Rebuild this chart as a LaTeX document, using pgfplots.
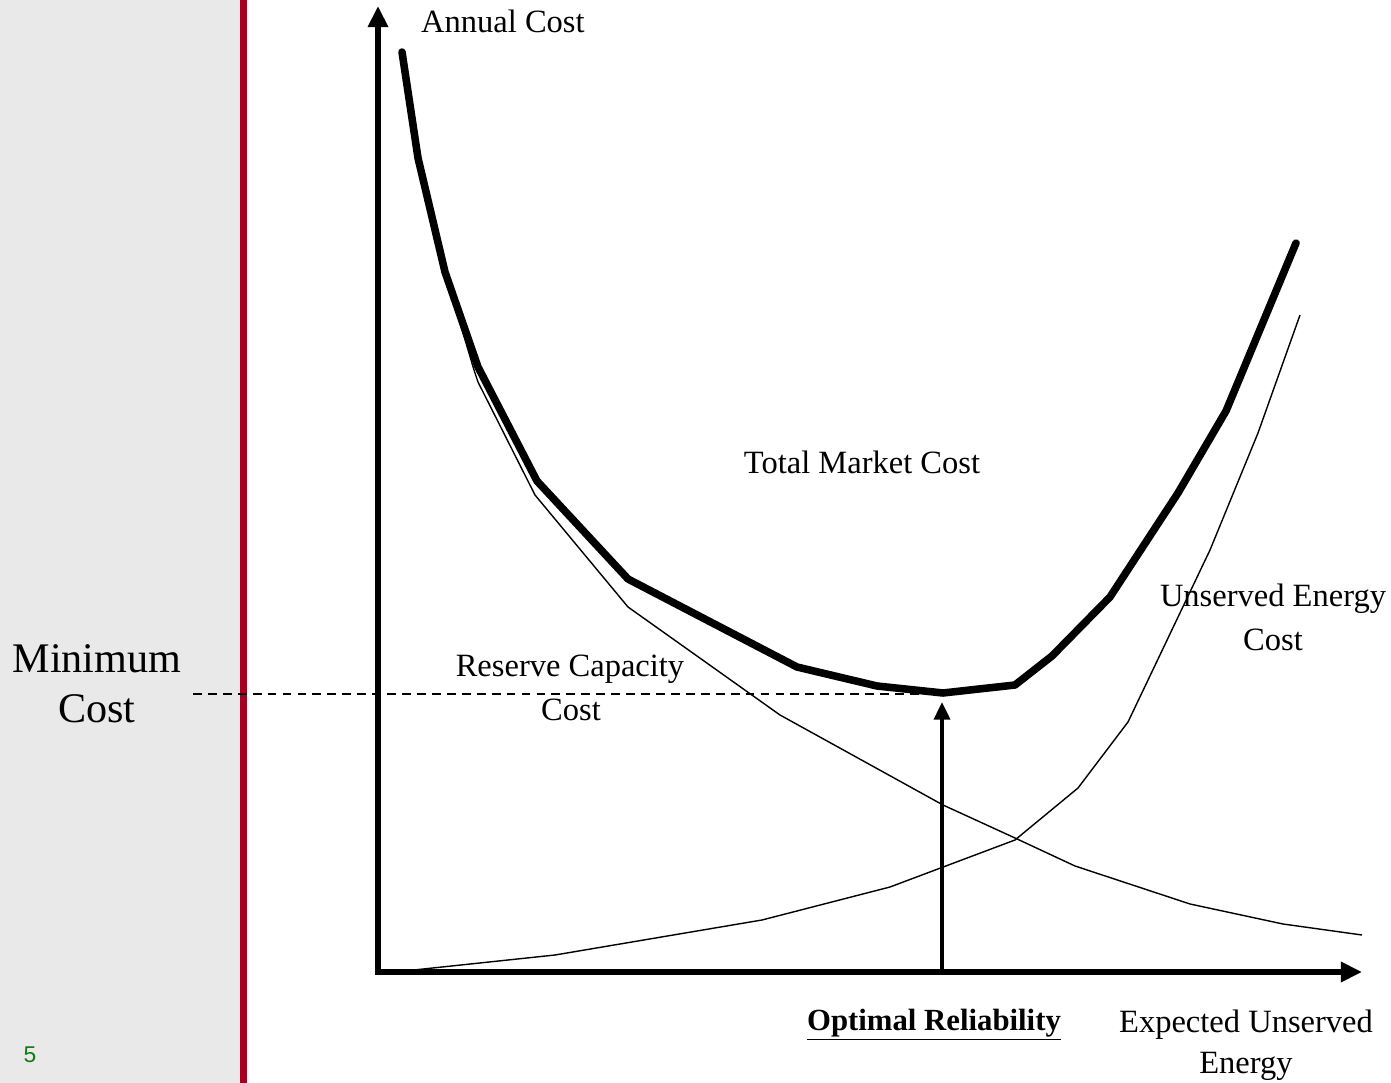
\documentclass[border=0pt]{standalone}
\usepackage{pgfplots}
\pgfplotsset{compat=1.18}
\usetikzlibrary{arrows.meta}
\usepackage{fontspec}
\setmainfont{Liberation Serif}
\newfontfamily\sansnum{Liberation Sans}
\definecolor{panel}{HTML}{E9E9E9}
\definecolor{slidered}{HTML}{A50021}
\definecolor{pagegreen}{HTML}{157A15}

% curves in picture units (x to the right, y downwards)
\pgfplotstableread{
x y
402 52
418 158
445 272
478 367
537 481
628 579
797 667
877 686
943 693
1015 685
1052 656
1110 597
1178 493
1226 411
1296 243
}\totalcost
\pgfplotstableread{
x y
402 52
418 158
445 272
474 370
478 382
535 495
628 607
780 715
943 805
1015 838
1075 866
1190 904
1283 924
1362 935
}\reservecost
\pgfplotstableread{
x y
395 972
555 955
762 920
890 887
1015 840
1078 788
1128 722
1210 550
1258 433
1300 315
}\unservedcost

\newcommand\lbl{\fontsize{18.5}{22}\selectfont}

\begin{document}
\begin{tikzpicture}
\begin{axis}[
  width=27.82cm, height=21.66cm, scale only axis,
  xmin=0, xmax=1391, ymin=0, ymax=1083, y dir=reverse,
  axis lines=none, clip=false,
]
% side panel
\fill[panel] (axis cs:0,0) rectangle (axis cs:240,1083);
\fill[slidered] (axis cs:240,0) rectangle (axis cs:247,1083);

% axes
\addplot[line width=3pt, -{Triangle[length=12pt,width=11pt]}] coordinates {(378,975) (378,6)};
\addplot[line width=3pt, -{Triangle[length=12pt,width=11pt]}] coordinates {(375,972) (1362,972)};

% minimum cost line and optimum arrow
\addplot[line width=0.8pt, dash pattern=on 5pt off 3.5pt] coordinates {(193,694) (943,694)};
\addplot[line width=2.2pt, -{Triangle[length=10pt,width=9pt]}] coordinates {(942,972) (942,702)};

% curves
\addplot[line width=0.8pt, line join=round] table[x=x,y=y] {\reservecost};
\addplot[line width=0.8pt, line join=round] table[x=x,y=y] {\unservedcost};
\addplot[line width=4.3pt, line cap=round, line join=round] table[x=x,y=y] {\totalcost};

% labels
\node[anchor=west, font=\lbl] at (axis cs:415,21) {Annual Cost};
\node[font=\lbl] at (axis cs:862,462) {Total Market Cost};
\node[font=\lbl] at (axis cs:570,669) {Reserve Capacity};
\node[font=\lbl] at (axis cs:571,710) {Cost};
\node[font=\lbl] at (axis cs:1273,599) {Unserved Energy};
\node[font=\lbl] at (axis cs:1273,640) {Cost};
\node[font=\lbl] at (axis cs:1246,1025) {Expected Unserved};
\node[font=\lbl] at (axis cs:1246,1066) {Energy};
\node[font=\fontsize{17.5}{21}\selectfont] at (axis cs:934,1025) {\underline{\textbf{Optimal Reliability}}};
\node[font=\fontsize{24}{28}\selectfont] at (axis cs:97,659) {Minimum};
\node[font=\fontsize{24}{28}\selectfont] at (axis cs:97,709) {Cost};
\node[font=\sansnum\fontsize{13}{15}\selectfont, text=pagegreen] at (axis cs:30,1055) {5};
\end{axis}
\pgfresetboundingbox
\useasboundingbox (current axis.south west) rectangle (current axis.north east);
\end{tikzpicture}
\end{document}
